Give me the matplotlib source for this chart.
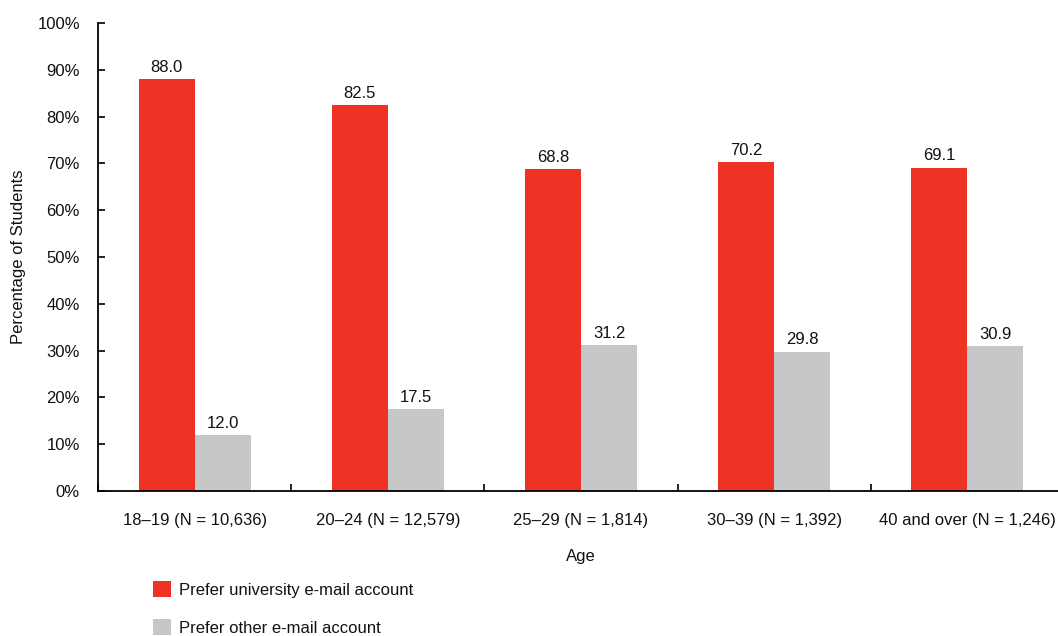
import matplotlib
matplotlib.use("Agg")
import matplotlib.pyplot as plt
import numpy as np

categories = ["18\u201319 (N = 10,636)", "20\u201324 (N = 12,579)", "25\u201329 (N = 1,814)",
              "30\u201339 (N = 1,392)", "40 and over (N = 1,246)"]
university = [88.0, 82.5, 68.8, 70.2, 69.1]
other = [12.0, 17.5, 31.2, 29.8, 30.9]
series_names = ["Prefer university e-mail account", "Prefer other e-mail account"]
yticks = [0, 10, 20, 30, 40, 50, 60, 70, 80, 90, 100]

RED = "#EE3224"
GRAY = "#C6C7C9"

plt.rcParams['font.family'] = ['Liberation Sans', 'DejaVu Sans']

fig = plt.figure(figsize=(10.58, 6.36), dpi=100)
ax = fig.add_axes([98/1058, 1 - 491/636, (1064 - 98)/1058, (491 - 23)/636])

x = np.arange(len(categories))
w = 0.29
b1 = ax.bar(x - w/2, university, width=w, color=RED, label=series_names[0])
b2 = ax.bar(x + w/2, other, width=w, color=GRAY, label=series_names[1])

for bars, vals in ((b1, university), (b2, other)):
    for rect, v in zip(bars, vals):
        ax.annotate(f"{v:.1f}", (rect.get_x() + rect.get_width()/2, v),
                    xytext=(0, 3), textcoords="offset points",
                    ha="center", va="bottom", fontsize=12, color="#111111")

ax.set_xlim(-0.5, len(categories) - 0.5)
ax.set_ylim(0, 100)
ax.set_yticks(yticks)
ax.set_yticklabels([f"{t}%" for t in yticks])
ax.set_xticks(x)
ax.set_xticklabels(categories)
ax.set_xticks(np.arange(len(categories) + 1) - 0.5, minor=True)

ax.tick_params(axis='x', which='major', length=0, pad=16, labelsize=12, colors="#111111")
ax.tick_params(axis='x', which='minor', direction='in', length=5, width=1.2, color='black')
ax.tick_params(axis='y', which='major', direction='in', length=5, width=1.2, pad=13,
               labelsize=12, color='black', labelcolor="#111111")

for s in ("top", "right"):
    ax.spines[s].set_visible(False)
for s in ("left", "bottom"):
    ax.spines[s].set_linewidth(1.3)
    ax.spines[s].set_color("black")

ax.set_ylabel("Percentage of Students", fontsize=12, color="#111111")
ax.yaxis.set_label_coords(-(98 - 26)/966, 0.5)
ax.set_xlabel("Age", fontsize=12, color="#111111")
ax.xaxis.set_label_coords(0.5, -(549 - 491)/468)

leg = fig.legend(handles=[b1, b2], labels=series_names, loc="upper left",
                 bbox_to_anchor=(148/1058, 1 - 576/636), frameon=False, fontsize=12,
                 handlelength=1.1, handleheight=1.1, labelspacing=1.3, handletextpad=0.45,
                 borderaxespad=0, borderpad=0.3)
for t in leg.get_texts():
    t.set_color("#111111")

fig.savefig("out.png", dpi=100)
